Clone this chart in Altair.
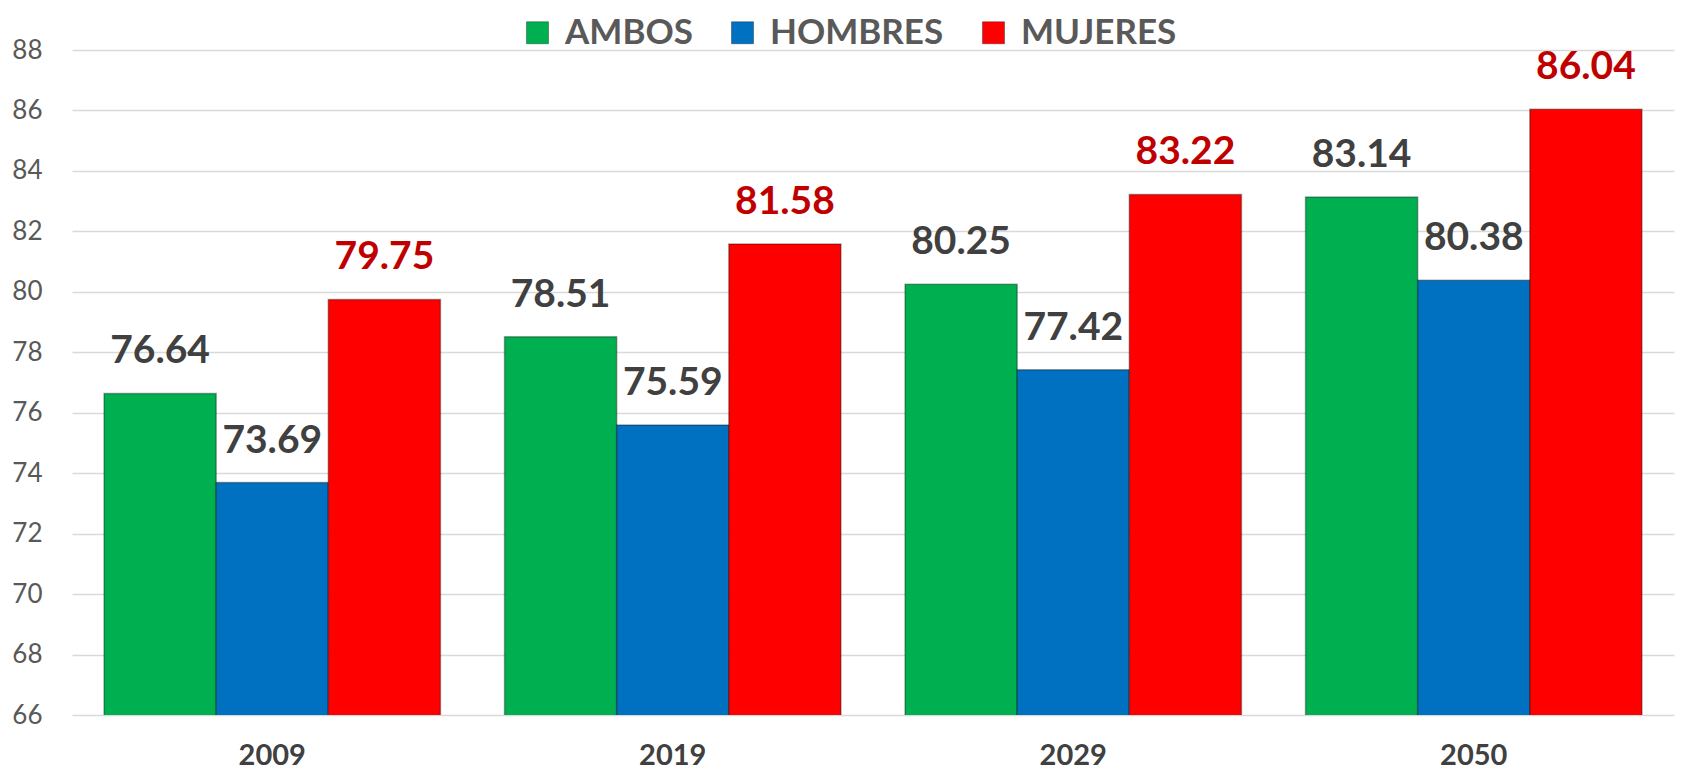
import altair as alt
import pandas as pd

years = ["2009", "2019", "2029", "2050"]
series = ["AMBOS", "HOMBRES", "MUJERES"]
ambos = [76.64, 78.51, 80.25, 83.14]
hombres = [73.69, 75.59, 77.42, 80.38]
mujeres = [79.75, 81.58, 83.22, 86.04]
colors = ["#00B050", "#0070C0", "#FF0000"]

rows = []
for i, y in enumerate(years):
    for s, vals in zip(series, [ambos, hombres, mujeres]):
        rows.append({"year": y, "serie": s, "value": vals[i], "label": f"{vals[i]:.2f}"})
df = pd.DataFrame(rows)

FONT = "Lato"

x = alt.X("year:N", sort=years, title=None,
          scale=alt.Scale(paddingInner=0.16, paddingOuter=0.08),
          axis=alt.Axis(labelAngle=0, labelFontSize=29, labelFontWeight="bold",
                        labelColor="#404040", labelPadding=26, ticks=False,
                        domain=False, labelFont=FONT))
y = alt.Y("value:Q", title=None,
          scale=alt.Scale(domain=[66, 88], zero=False, nice=False),
          axis=alt.Axis(values=list(range(66, 89, 2)), labelFontSize=26,
                        labelColor="#595959", labelPadding=30, ticks=False,
                        domain=False, gridColor="#D9D9D9", gridWidth=1.5,
                        labelFont=FONT))
xo = alt.XOffset("serie:N", sort=series)

bars = alt.Chart(df).mark_bar(stroke="#00000055", strokeWidth=1.5, clip=True).encode(
    x=x, y=y, xOffset=xo,
    color=alt.Color("serie:N", sort=series,
                    scale=alt.Scale(domain=series, range=colors),
                    legend=alt.Legend(title=None, orient="none", direction="horizontal",
                                      legendX=448, legendY=-35,
                                      symbolType="square", symbolSize=484,
                                      symbolStrokeColor="#00000055", symbolStrokeWidth=1,
                                      labelFontSize=35, labelFontWeight="bold",
                                      labelColor="#595959", labelFont=FONT,
                                      labelLimit=0, labelOffset=10, columnPadding=32)),
)

text = alt.Chart(df).mark_text(baseline="bottom", dy=-22, fontSize=39,
                               fontWeight="bold", font=FONT).encode(
    x=x, y=y, xOffset=xo,
    text="label:N",
    color=alt.condition(alt.datum.serie == "MUJERES", alt.value("#C00000"), alt.value("#404040")),
)

chart = alt.layer(bars, text).properties(
    width=1602, height=665,
    autosize=alt.AutoSizeParams(type="none"),
    padding={"left": 64, "top": 42, "right": 14, "bottom": 57},
).configure_view(stroke=None)

chart.save("out.html", embed_options={"renderer": "svg", "actions": False})
